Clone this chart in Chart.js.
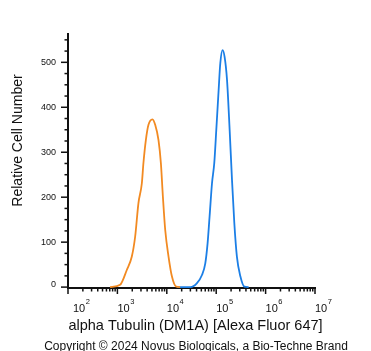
<!DOCTYPE html>
<html>
<head>
<meta charset="utf-8">
<script src="https://cdn.jsdelivr.net/npm/chart.js@4.4.1/dist/chart.umd.min.js"></script>
<style>
  html, body { margin: 0; padding: 0; background: #fff; }
  #wrap { width: 371px; height: 351px; }
</style>
</head>
<body>
<div id="wrap"><canvas id="myChart" width="371" height="351"></canvas></div>
<script>
// isotype control (orange) and alpha Tubulin stained (blue) histograms
var orangeX = [711, 1135, 1549, 1959, 2286, 2667, 3126, 3365, 3767, 4256, 5129, 5821, 6792, 7586, 8337, 9290, 10839, 12677, 15488, 18621];
var orangeY = [0, 5, 38, 68, 112, 187, 231, 276, 327, 361, 373, 361, 327, 276, 201, 127, 68, 24, 1, 0];

var blueX = [16032, 29854, 40832, 51523, 60117, 66988, 73451, 82224, 91411, 100462, 111944, 121061, 134896, 147911, 165577, 187068, 208930, 232809, 262422, 308319, 371535, 453942];
var blueY = [0, 0, 9, 27, 53, 98, 157, 231, 276, 350, 438, 498, 527, 512, 461, 350, 238, 142, 68, 24, 1, 0];

var xDecades = [2, 3, 4, 5, 6, 7];
var yMajor = [0, 100, 200, 300, 400, 500];
var yMinorStep = 25;

var xTitle = 'alpha Tubulin (DM1A) [Alexa Fluor 647]';
var yTitle = 'Relative Cell Number';
var footer = 'Copyright \u00A9 2024 Novus Biologicals, a Bio-Techne Brand';

var FONT = '"Liberation Sans", Arial, sans-serif';

function toPoints(xs, ys) {
    return xs.map(function (v, i) { return { x: v, y: ys[i] }; });
}

var axisDecor = {
    id: 'axisDecor',
    afterDraw: function (chart) {
        var ctx = chart.ctx;
        var x = chart.scales.x;
        var y = chart.scales.y;
        var area = chart.chartArea;
        ctx.save();
        ctx.strokeStyle = '#111';
        ctx.fillStyle = '#111';
        ctx.lineWidth = 1.5;

        // x ticks, log decades with minors
        xDecades.forEach(function (d, i) {
            var px = x.getPixelForValue(Math.pow(10, d));
            ctx.beginPath();
            ctx.moveTo(px, area.bottom);
            ctx.lineTo(px, area.bottom + 6);
            ctx.stroke();
            if (i < xDecades.length - 1) {
                for (var m = 2; m <= 9; m++) {
                    var mx = x.getPixelForValue(m * Math.pow(10, d));
                    ctx.beginPath();
                    ctx.moveTo(mx, area.bottom);
                    ctx.lineTo(mx, area.bottom + 3.5);
                    ctx.stroke();
                }
            }
            // label 10^d
            var lx = px + (i === 0 ? 5 : 0);
            ctx.font = '11px ' + FONT;
            ctx.textAlign = 'left';
            ctx.textBaseline = 'alphabetic';
            ctx.fillText('10', lx, 312);
            var w = ctx.measureText('10').width;
            ctx.font = '7.5px ' + FONT;
            ctx.fillText(String(d), lx + w + 0.5, 304);
        });

        // y ticks
        for (var v = 0; v <= y.max; v += yMinorStep) {
            var py = y.getPixelForValue(v);
            var major = yMajor.indexOf(v) !== -1;
            ctx.beginPath();
            ctx.moveTo(area.left, py);
            ctx.lineTo(area.left - (major ? 7 : 3.5), py);
            ctx.stroke();
        }
        ctx.font = '9px ' + FONT;
        ctx.textAlign = 'right';
        ctx.textBaseline = 'middle';
        yMajor.forEach(function (v) {
            var py = y.getPixelForValue(v) - (v === 0 ? 3 : 0);
            ctx.fillText(String(v), 56, py);
        });

        // titles
        ctx.textAlign = 'center';
        ctx.textBaseline = 'alphabetic';
        ctx.font = '14.5px ' + FONT;
        ctx.fillText(xTitle, 195.5, 329.5);
        ctx.font = '12px ' + FONT;
        ctx.fillText(footer, 196, 349.5);

        ctx.save();
        ctx.translate(22, 140.5);
        ctx.rotate(-Math.PI / 2);
        ctx.font = '14px ' + FONT;
        ctx.textBaseline = 'alphabetic';
        ctx.fillText(yTitle, 0, 0);
        ctx.restore();

        ctx.restore();
    }
};

var ctx = document.getElementById('myChart').getContext('2d');
var myChart = new Chart(ctx, {
    type: 'line',
    data: {
        datasets: [{
            label: 'Isotype',
            data: toPoints(orangeX, orangeY),
            borderColor: '#F28A22',
            borderWidth: 1.8,
            pointRadius: 0,
            fill: false,
            cubicInterpolationMode: 'monotone'
        }, {
            label: 'alpha Tubulin',
            data: toPoints(blueX, blueY),
            borderColor: '#1C7FE6',
            borderWidth: 1.8,
            pointRadius: 0,
            fill: false,
            cubicInterpolationMode: 'monotone'
        }]
    },
    options: {
        responsive: false,
        animation: false,
        layout: {
            padding: { left: 68, right: 56, top: 34, bottom: 63 }
        },
        plugins: {
            legend: { display: false },
            tooltip: { enabled: false }
        },
        scales: {
            x: {
                type: 'logarithmic',
                min: 100,
                max: 10000000,
                grid: { display: false, drawTicks: false },
                ticks: { display: false },
                border: { display: true, color: '#111', width: 2 },
                afterFit: function (s) { s.height = 0; }
            },
            y: {
                type: 'linear',
                min: -2,
                max: 563,
                grid: { display: false, drawTicks: false },
                ticks: { display: false },
                border: { display: true, color: '#111', width: 2 },
                afterFit: function (s) { s.width = 0; }
            }
        }
    },
    plugins: [axisDecor]
});
</script>
</body>
</html>
